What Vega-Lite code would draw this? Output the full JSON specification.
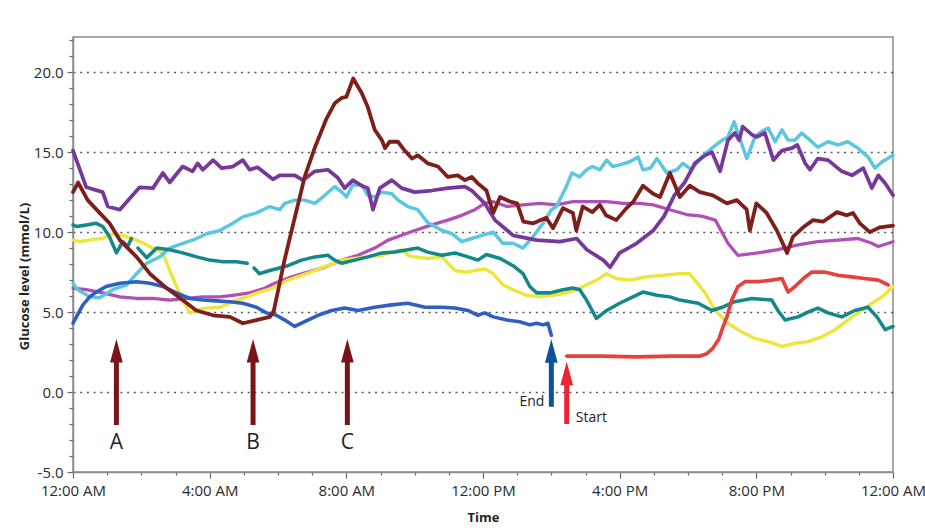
{
  "$schema": "https://vega.github.io/schema/vega-lite/v6.json",
  "width": 820,
  "height": 435,
  "autosize": "none",
  "padding": {"left": 73, "top": 37, "right": 32, "bottom": 56},
  "background": "white",
  "config": {
    "view": {"stroke": "#8c8c8c", "strokeWidth": 1.5},
    "font": "Open Sans",
    "axis": {
      "domainColor": "#8c8c8c", "domainWidth": 1.5, "tickColor": "#666666", "tickWidth": 1.2,
      "labelColor": "#2b2b2b", "labelFont": "Open Sans", "labelFontSize": 15,
      "titleFont": "Open Sans", "titleFontWeight": "bold", "titleFontSize": 13, "titleColor": "#222222",
      "labelOverlap": false, "labelFlush": false
    }
  },
  "datasets": {
    "glucose": [
      {"s":"magenta","h":0,"g":6.5},{"s":"magenta","h":0.39,"g":6.4},{"s":"magenta","h":0.87,"g":6.2},{"s":"magenta","h":1.37,"g":5.95},{"s":"magenta","h":1.86,"g":5.85},{"s":"magenta","h":2.34,"g":5.85},{"s":"magenta","h":2.83,"g":5.75},{"s":"magenta","h":3.3,"g":5.85},{"s":"magenta","h":3.8,"g":5.95},{"s":"magenta","h":4.3,"g":5.95},{"s":"magenta","h":4.68,"g":6.05},{"s":"magenta","h":5.17,"g":6.2},{"s":"magenta","h":5.56,"g":6.45},{"s":"magenta","h":5.9,"g":6.8},{"s":"magenta","h":6.4,"g":7.2},{"s":"magenta","h":6.87,"g":7.5},{"s":"magenta","h":7.37,"g":7.8},{"s":"magenta","h":7.87,"g":8.25},{"s":"magenta","h":8.34,"g":8.55},{"s":"magenta","h":8.83,"g":9.0},{"s":"magenta","h":9.22,"g":9.5},{"s":"magenta","h":9.62,"g":9.8},{"s":"magenta","h":10.0,"g":10.1},{"s":"magenta","h":10.5,"g":10.45},{"s":"magenta","h":10.97,"g":10.75},{"s":"magenta","h":11.38,"g":11.05},{"s":"magenta","h":11.76,"g":11.4},{"s":"magenta","h":12.05,"g":11.8},{"s":"magenta","h":12.3,"g":11.9},{"s":"magenta","h":12.7,"g":11.6},{"s":"magenta","h":13.17,"g":11.7},{"s":"magenta","h":13.66,"g":11.8},{"s":"magenta","h":14.15,"g":11.7},{"s":"magenta","h":14.63,"g":11.9},{"s":"magenta","h":15.13,"g":11.9},{"s":"magenta","h":15.62,"g":11.9},{"s":"magenta","h":16.1,"g":11.8},{"s":"magenta","h":16.59,"g":11.8},{"s":"magenta","h":16.98,"g":11.7},{"s":"magenta","h":17.47,"g":11.4},{"s":"magenta","h":17.96,"g":11.1},{"s":"magenta","h":18.4,"g":11.0},{"s":"magenta","h":18.8,"g":10.75},{"s":"magenta","h":19.17,"g":9.3},{"s":"magenta","h":19.46,"g":8.55},{"s":"magenta","h":20.05,"g":8.7},{"s":"magenta","h":20.63,"g":8.9},{"s":"magenta","h":21.22,"g":9.2},{"s":"magenta","h":21.8,"g":9.4},{"s":"magenta","h":22.39,"g":9.5},{"s":"magenta","h":22.97,"g":9.6},{"s":"magenta","h":23.38,"g":9.3},{"s":"magenta","h":23.57,"g":9.1},{"s":"magenta","h":24,"g":9.4},
      {"s":"yellow","h":0,"g":9.5},{"s":"yellow","h":0.2,"g":9.4},{"s":"yellow","h":0.58,"g":9.55},{"s":"yellow","h":0.87,"g":9.6},{"s":"yellow","h":1.16,"g":9.9},{"s":"yellow","h":1.46,"g":9.8},{"s":"yellow","h":1.86,"g":9.5},{"s":"yellow","h":2.25,"g":9.1},{"s":"yellow","h":2.63,"g":8.7},{"s":"yellow","h":2.83,"g":7.6},{"s":"yellow","h":3.03,"g":6.6},{"s":"yellow","h":3.21,"g":5.75},{"s":"yellow","h":3.42,"g":4.95},{"s":"yellow","h":3.62,"g":5.1},{"s":"yellow","h":3.91,"g":5.25},{"s":"yellow","h":4.3,"g":5.3},{"s":"yellow","h":4.68,"g":5.65},{"s":"yellow","h":5.07,"g":5.95},{"s":"yellow","h":5.46,"g":6.25},{"s":"yellow","h":5.85,"g":6.5},{"s":"yellow","h":6.29,"g":7.0},{"s":"yellow","h":6.69,"g":7.3},{"s":"yellow","h":7.08,"g":7.6},{"s":"yellow","h":7.46,"g":7.9},{"s":"yellow","h":7.87,"g":8.25},{"s":"yellow","h":8.25,"g":8.35},{"s":"yellow","h":8.63,"g":8.45},{"s":"yellow","h":9.04,"g":8.55},{"s":"yellow","h":9.33,"g":8.75},{"s":"yellow","h":9.62,"g":8.9},{"s":"yellow","h":9.8,"g":8.55},{"s":"yellow","h":10.0,"g":8.45},{"s":"yellow","h":10.38,"g":8.35},{"s":"yellow","h":10.8,"g":8.45},{"s":"yellow","h":10.97,"g":8.05},{"s":"yellow","h":11.18,"g":7.6},{"s":"yellow","h":11.47,"g":7.5},{"s":"yellow","h":11.76,"g":7.6},{"s":"yellow","h":12.05,"g":7.7},{"s":"yellow","h":12.3,"g":7.4},{"s":"yellow","h":12.58,"g":6.7},{"s":"yellow","h":12.88,"g":6.4},{"s":"yellow","h":13.27,"g":6.05},{"s":"yellow","h":13.66,"g":5.95},{"s":"yellow","h":14.05,"g":6.05},{"s":"yellow","h":14.44,"g":6.2},{"s":"yellow","h":14.73,"g":6.4},{"s":"yellow","h":15.03,"g":6.7},{"s":"yellow","h":15.32,"g":7.0},{"s":"yellow","h":15.62,"g":7.4},{"s":"yellow","h":15.9,"g":7.1},{"s":"yellow","h":16.3,"g":7.0},{"s":"yellow","h":16.78,"g":7.2},{"s":"yellow","h":17.27,"g":7.3},{"s":"yellow","h":17.76,"g":7.4},{"s":"yellow","h":18.05,"g":7.4},{"s":"yellow","h":18.2,"g":7.0},{"s":"yellow","h":18.5,"g":6.2},{"s":"yellow","h":18.8,"g":5.1},{"s":"yellow","h":19.17,"g":4.3},{"s":"yellow","h":19.58,"g":3.75},{"s":"yellow","h":19.96,"g":3.35},{"s":"yellow","h":20.35,"g":3.15},{"s":"yellow","h":20.75,"g":2.85},{"s":"yellow","h":21.13,"g":3.05},{"s":"yellow","h":21.51,"g":3.15},{"s":"yellow","h":21.91,"g":3.45},{"s":"yellow","h":22.3,"g":3.9},{"s":"yellow","h":22.68,"g":4.5},{"s":"yellow","h":23.07,"g":5.1},{"s":"yellow","h":23.38,"g":5.55},{"s":"yellow","h":23.68,"g":5.95},{"s":"yellow","h":24,"g":6.6},
      {"s":"cyan","h":0,"g":6.8},{"s":"cyan","h":0.14,"g":6.4},{"s":"cyan","h":0.49,"g":5.95},{"s":"cyan","h":0.78,"g":5.9},{"s":"cyan","h":1.16,"g":6.4},{"s":"cyan","h":1.57,"g":6.7},{"s":"cyan","h":1.86,"g":7.4},{"s":"cyan","h":2.16,"g":8.05},{"s":"cyan","h":2.54,"g":8.45},{"s":"cyan","h":2.83,"g":9.0},{"s":"cyan","h":3.21,"g":9.3},{"s":"cyan","h":3.62,"g":9.6},{"s":"cyan","h":3.91,"g":9.9},{"s":"cyan","h":4.3,"g":10.1},{"s":"cyan","h":4.68,"g":10.55},{"s":"cyan","h":4.97,"g":10.95},{"s":"cyan","h":5.37,"g":11.2},{"s":"cyan","h":5.76,"g":11.6},{"s":"cyan","h":6.05,"g":11.4},{"s":"cyan","h":6.2,"g":11.8},{"s":"cyan","h":6.49,"g":12.0},{"s":"cyan","h":6.78,"g":12.0},{"s":"cyan","h":7.08,"g":11.8},{"s":"cyan","h":7.37,"g":12.3},{"s":"cyan","h":7.66,"g":12.85},{"s":"cyan","h":7.87,"g":12.5},{"s":"cyan","h":8.0,"g":12.2},{"s":"cyan","h":8.19,"g":12.95},{"s":"cyan","h":8.45,"g":12.95},{"s":"cyan","h":8.63,"g":12.3},{"s":"cyan","h":8.83,"g":12.2},{"s":"cyan","h":9.04,"g":12.5},{"s":"cyan","h":9.33,"g":12.4},{"s":"cyan","h":9.51,"g":12.0},{"s":"cyan","h":9.8,"g":11.6},{"s":"cyan","h":10.09,"g":11.4},{"s":"cyan","h":10.38,"g":10.6},{"s":"cyan","h":10.8,"g":10.1},{"s":"cyan","h":11.09,"g":9.9},{"s":"cyan","h":11.38,"g":9.4},{"s":"cyan","h":11.67,"g":9.6},{"s":"cyan","h":11.97,"g":9.8},{"s":"cyan","h":12.3,"g":10.0},{"s":"cyan","h":12.58,"g":9.3},{"s":"cyan","h":12.88,"g":9.3},{"s":"cyan","h":13.17,"g":9.0},{"s":"cyan","h":13.46,"g":9.7},{"s":"cyan","h":13.76,"g":10.55},{"s":"cyan","h":14.0,"g":11.4},{"s":"cyan","h":14.15,"g":11.6},{"s":"cyan","h":14.44,"g":12.85},{"s":"cyan","h":14.6,"g":13.7},{"s":"cyan","h":14.83,"g":13.45},{"s":"cyan","h":15.03,"g":13.9},{"s":"cyan","h":15.2,"g":14.1},{"s":"cyan","h":15.42,"g":13.9},{"s":"cyan","h":15.62,"g":14.5},{"s":"cyan","h":15.8,"g":14.1},{"s":"cyan","h":16.0,"g":14.2},{"s":"cyan","h":16.3,"g":14.4},{"s":"cyan","h":16.54,"g":14.7},{"s":"cyan","h":16.68,"g":13.9},{"s":"cyan","h":16.9,"g":14.0},{"s":"cyan","h":17.09,"g":14.6},{"s":"cyan","h":17.38,"g":13.7},{"s":"cyan","h":17.67,"g":13.9},{"s":"cyan","h":17.85,"g":14.3},{"s":"cyan","h":18.1,"g":13.9},{"s":"cyan","h":18.4,"g":14.7},{"s":"cyan","h":18.7,"g":15.25},{"s":"cyan","h":19.0,"g":15.75},{"s":"cyan","h":19.17,"g":15.95},{"s":"cyan","h":19.35,"g":16.9},{"s":"cyan","h":19.5,"g":15.95},{"s":"cyan","h":19.72,"g":14.6},{"s":"cyan","h":19.96,"g":15.95},{"s":"cyan","h":20.16,"g":16.3},{"s":"cyan","h":20.35,"g":16.5},{"s":"cyan","h":20.55,"g":15.65},{"s":"cyan","h":20.75,"g":16.4},{"s":"cyan","h":20.93,"g":15.75},{"s":"cyan","h":21.13,"g":15.75},{"s":"cyan","h":21.33,"g":16.2},{"s":"cyan","h":21.57,"g":15.75},{"s":"cyan","h":21.8,"g":15.3},{"s":"cyan","h":22.1,"g":15.65},{"s":"cyan","h":22.39,"g":15.45},{"s":"cyan","h":22.68,"g":15.65},{"s":"cyan","h":22.97,"g":15.25},{"s":"cyan","h":23.27,"g":14.7},{"s":"cyan","h":23.47,"g":14.0},{"s":"cyan","h":23.68,"g":14.4},{"s":"cyan","h":24,"g":14.8},
      {"s":"teal","h":0,"g":10.45},{"s":"teal","h":0.1,"g":10.35},{"s":"teal","h":0.39,"g":10.45},{"s":"teal","h":0.68,"g":10.55},{"s":"teal","h":0.87,"g":10.35},{"s":"teal","h":1.07,"g":9.7},{"s":"teal","h":1.27,"g":8.7},{"s":"teal","h":1.46,"g":9.4},{"s":"teal","h":1.6,"g":9.1},{"s":"teal","h":1.71,"g":9.6},{"s":"teal","h":1.8,"g":null},{"s":"teal","h":1.9,"g":9.0},{"s":"teal","h":2.16,"g":8.4},{"s":"teal","h":2.45,"g":9.0},{"s":"teal","h":2.83,"g":8.9},{"s":"teal","h":3.21,"g":8.7},{"s":"teal","h":3.62,"g":8.45},{"s":"teal","h":4.0,"g":8.25},{"s":"teal","h":4.39,"g":8.15},{"s":"teal","h":4.78,"g":8.15},{"s":"teal","h":5.1,"g":8.05},{"s":"teal","h":5.2,"g":null},{"s":"teal","h":5.3,"g":7.75},{"s":"teal","h":5.46,"g":7.4},{"s":"teal","h":5.76,"g":7.6},{"s":"teal","h":6.29,"g":7.9},{"s":"teal","h":6.69,"g":8.25},{"s":"teal","h":7.08,"g":8.45},{"s":"teal","h":7.46,"g":8.55},{"s":"teal","h":7.66,"g":8.25},{"s":"teal","h":7.87,"g":8.05},{"s":"teal","h":8.25,"g":8.25},{"s":"teal","h":8.63,"g":8.45},{"s":"teal","h":9.04,"g":8.7},{"s":"teal","h":9.42,"g":8.75},{"s":"teal","h":9.8,"g":8.9},{"s":"teal","h":10.09,"g":9.0},{"s":"teal","h":10.38,"g":8.75},{"s":"teal","h":10.8,"g":8.55},{"s":"teal","h":11.18,"g":8.7},{"s":"teal","h":11.56,"g":8.45},{"s":"teal","h":11.85,"g":8.25},{"s":"teal","h":12.1,"g":8.6},{"s":"teal","h":12.5,"g":8.35},{"s":"teal","h":12.88,"g":7.9},{"s":"teal","h":13.17,"g":7.4},{"s":"teal","h":13.37,"g":6.6},{"s":"teal","h":13.57,"g":6.2},{"s":"teal","h":13.96,"g":6.2},{"s":"teal","h":14.34,"g":6.4},{"s":"teal","h":14.63,"g":6.5},{"s":"teal","h":14.83,"g":6.4},{"s":"teal","h":15.03,"g":5.75},{"s":"teal","h":15.32,"g":4.6},{"s":"teal","h":15.62,"g":5.1},{"s":"teal","h":16.0,"g":5.55},{"s":"teal","h":16.39,"g":5.95},{"s":"teal","h":16.68,"g":6.25},{"s":"teal","h":17.09,"g":6.05},{"s":"teal","h":17.47,"g":5.95},{"s":"teal","h":17.76,"g":5.75},{"s":"teal","h":18.05,"g":5.65},{"s":"teal","h":18.3,"g":5.55},{"s":"teal","h":18.7,"g":5.1},{"s":"teal","h":19.0,"g":5.3},{"s":"teal","h":19.37,"g":5.65},{"s":"teal","h":19.87,"g":5.85},{"s":"teal","h":20.45,"g":5.75},{"s":"teal","h":20.63,"g":5.1},{"s":"teal","h":20.84,"g":4.5},{"s":"teal","h":21.22,"g":4.7},{"s":"teal","h":21.51,"g":5.0},{"s":"teal","h":21.8,"g":5.25},{"s":"teal","h":22.1,"g":4.95},{"s":"teal","h":22.5,"g":4.7},{"s":"teal","h":22.88,"g":5.1},{"s":"teal","h":23.27,"g":5.3},{"s":"teal","h":23.53,"g":4.7},{"s":"teal","h":23.77,"g":3.9},{"s":"teal","h":24,"g":4.1},
      {"s":"blue","h":0,"g":4.3},{"s":"blue","h":0.1,"g":4.7},{"s":"blue","h":0.29,"g":5.45},{"s":"blue","h":0.49,"g":5.95},{"s":"blue","h":0.68,"g":6.25},{"s":"blue","h":0.97,"g":6.6},{"s":"blue","h":1.37,"g":6.8},{"s":"blue","h":1.86,"g":6.9},{"s":"blue","h":2.25,"g":6.8},{"s":"blue","h":2.63,"g":6.6},{"s":"blue","h":3.03,"g":6.2},{"s":"blue","h":3.42,"g":5.85},{"s":"blue","h":3.8,"g":5.75},{"s":"blue","h":4.2,"g":5.7},{"s":"blue","h":4.59,"g":5.65},{"s":"blue","h":4.97,"g":5.55},{"s":"blue","h":5.37,"g":5.3},{"s":"blue","h":5.66,"g":4.95},{"s":"blue","h":5.95,"g":4.8},{"s":"blue","h":6.2,"g":4.5},{"s":"blue","h":6.49,"g":4.1},{"s":"blue","h":6.78,"g":4.4},{"s":"blue","h":7.17,"g":4.8},{"s":"blue","h":7.57,"g":5.1},{"s":"blue","h":7.95,"g":5.25},{"s":"blue","h":8.34,"g":5.1},{"s":"blue","h":8.83,"g":5.3},{"s":"blue","h":9.33,"g":5.45},{"s":"blue","h":9.8,"g":5.55},{"s":"blue","h":10.3,"g":5.3},{"s":"blue","h":10.8,"g":5.3},{"s":"blue","h":11.18,"g":5.25},{"s":"blue","h":11.56,"g":5.1},{"s":"blue","h":11.85,"g":4.8},{"s":"blue","h":12.05,"g":4.95},{"s":"blue","h":12.3,"g":4.7},{"s":"blue","h":12.7,"g":4.5},{"s":"blue","h":13.07,"g":4.4},{"s":"blue","h":13.37,"g":4.2},{"s":"blue","h":13.57,"g":4.3},{"s":"blue","h":13.76,"g":4.2},{"s":"blue","h":13.9,"g":4.3},{"s":"blue","h":14.0,"g":3.55},
      {"s":"red","h":14.45,"g":2.25},{"s":"red","h":15.5,"g":2.25},{"s":"red","h":16.5,"g":2.2},{"s":"red","h":17.5,"g":2.25},{"s":"red","h":18.35,"g":2.25},{"s":"red","h":18.55,"g":2.4},{"s":"red","h":18.73,"g":2.75},{"s":"red","h":18.9,"g":3.3},{"s":"red","h":19.03,"g":4.1},{"s":"red","h":19.14,"g":4.7},{"s":"red","h":19.28,"g":5.75},{"s":"red","h":19.46,"g":6.6},{"s":"red","h":19.67,"g":6.9},{"s":"red","h":20.05,"g":6.9},{"s":"red","h":20.45,"g":7.0},{"s":"red","h":20.75,"g":7.1},{"s":"red","h":20.93,"g":6.25},{"s":"red","h":21.13,"g":6.6},{"s":"red","h":21.43,"g":7.2},{"s":"red","h":21.63,"g":7.5},{"s":"red","h":22.0,"g":7.5},{"s":"red","h":22.39,"g":7.3},{"s":"red","h":22.8,"g":7.2},{"s":"red","h":23.17,"g":7.1},{"s":"red","h":23.57,"g":7.0},{"s":"red","h":23.86,"g":6.7},
      {"s":"purple","h":0,"g":15.1},{"s":"purple","h":0.39,"g":12.8},{"s":"purple","h":0.87,"g":12.5},{"s":"purple","h":1.02,"g":11.6},{"s":"purple","h":1.37,"g":11.4},{"s":"purple","h":1.66,"g":12.1},{"s":"purple","h":1.95,"g":12.8},{"s":"purple","h":2.34,"g":12.75},{"s":"purple","h":2.63,"g":13.7},{"s":"purple","h":2.83,"g":13.1},{"s":"purple","h":3.21,"g":14.1},{"s":"purple","h":3.5,"g":13.8},{"s":"purple","h":3.65,"g":14.3},{"s":"purple","h":3.8,"g":13.9},{"s":"purple","h":4.1,"g":14.5},{"s":"purple","h":4.35,"g":14.0},{"s":"purple","h":4.68,"g":14.1},{"s":"purple","h":4.97,"g":14.5},{"s":"purple","h":5.17,"g":13.9},{"s":"purple","h":5.4,"g":14.05},{"s":"purple","h":5.85,"g":13.3},{"s":"purple","h":6.05,"g":13.55},{"s":"purple","h":6.49,"g":13.55},{"s":"purple","h":6.73,"g":13.25},{"s":"purple","h":7.08,"g":13.8},{"s":"purple","h":7.46,"g":13.9},{"s":"purple","h":7.75,"g":13.4},{"s":"purple","h":7.95,"g":12.75},{"s":"purple","h":8.19,"g":13.25},{"s":"purple","h":8.45,"g":12.9},{"s":"purple","h":8.63,"g":12.75},{"s":"purple","h":8.78,"g":11.4},{"s":"purple","h":8.98,"g":12.75},{"s":"purple","h":9.33,"g":13.25},{"s":"purple","h":9.62,"g":12.75},{"s":"purple","h":10.0,"g":12.5},{"s":"purple","h":10.5,"g":12.6},{"s":"purple","h":10.97,"g":12.75},{"s":"purple","h":11.47,"g":12.85},{"s":"purple","h":11.67,"g":12.6},{"s":"purple","h":12.05,"g":11.8},{"s":"purple","h":12.35,"g":10.75},{"s":"purple","h":12.88,"g":9.8},{"s":"purple","h":13.57,"g":9.5},{"s":"purple","h":14.25,"g":9.4},{"s":"purple","h":14.74,"g":9.6},{"s":"purple","h":15.04,"g":8.9},{"s":"purple","h":15.52,"g":8.25},{"s":"purple","h":15.72,"g":7.8},{"s":"purple","h":16.0,"g":8.7},{"s":"purple","h":16.5,"g":9.3},{"s":"purple","h":16.98,"g":10.1},{"s":"purple","h":17.3,"g":11.0},{"s":"purple","h":17.6,"g":12.3},{"s":"purple","h":17.9,"g":13.1},{"s":"purple","h":18.2,"g":14.3},{"s":"purple","h":18.5,"g":14.8},{"s":"purple","h":18.7,"g":15.0},{"s":"purple","h":18.94,"g":13.8},{"s":"purple","h":19.17,"g":15.75},{"s":"purple","h":19.37,"g":16.2},{"s":"purple","h":19.5,"g":15.75},{"s":"purple","h":19.6,"g":16.6},{"s":"purple","h":19.87,"g":16.1},{"s":"purple","h":20.0,"g":15.95},{"s":"purple","h":20.25,"g":16.2},{"s":"purple","h":20.5,"g":14.5},{"s":"purple","h":20.75,"g":15.1},{"s":"purple","h":21.04,"g":15.25},{"s":"purple","h":21.2,"g":15.45},{"s":"purple","h":21.43,"g":14.3},{"s":"purple","h":21.57,"g":13.9},{"s":"purple","h":21.8,"g":14.6},{"s":"purple","h":22.1,"g":14.5},{"s":"purple","h":22.5,"g":13.8},{"s":"purple","h":22.8,"g":13.55},{"s":"purple","h":23.13,"g":14.0},{"s":"purple","h":23.38,"g":12.75},{"s":"purple","h":23.57,"g":13.55},{"s":"purple","h":23.77,"g":13.05},{"s":"purple","h":24,"g":12.3},
      {"s":"brown","h":0,"g":12.5},{"s":"brown","h":0.15,"g":13.1},{"s":"brown","h":0.43,"g":12.0},{"s":"brown","h":0.78,"g":11.2},{"s":"brown","h":1.07,"g":10.55},{"s":"brown","h":1.37,"g":9.5},{"s":"brown","h":1.86,"g":8.45},{"s":"brown","h":2.25,"g":7.4},{"s":"brown","h":2.74,"g":6.5},{"s":"brown","h":3.21,"g":5.75},{"s":"brown","h":3.61,"g":5.1},{"s":"brown","h":4.1,"g":4.8},{"s":"brown","h":4.59,"g":4.7},{"s":"brown","h":4.97,"g":4.3},{"s":"brown","h":5.37,"g":4.5},{"s":"brown","h":5.76,"g":4.7},{"s":"brown","h":5.88,"g":5.1},{"s":"brown","h":6.19,"g":8.25},{"s":"brown","h":6.49,"g":10.9},{"s":"brown","h":6.78,"g":13.45},{"s":"brown","h":7.08,"g":15.3},{"s":"brown","h":7.42,"g":17.1},{"s":"brown","h":7.66,"g":18.05},{"s":"brown","h":7.87,"g":18.4},{"s":"brown","h":8.0,"g":18.45},{"s":"brown","h":8.2,"g":19.6},{"s":"brown","h":8.45,"g":18.7},{"s":"brown","h":8.63,"g":17.8},{"s":"brown","h":8.83,"g":16.4},{"s":"brown","h":9.04,"g":15.75},{"s":"brown","h":9.13,"g":15.25},{"s":"brown","h":9.27,"g":15.65},{"s":"brown","h":9.51,"g":15.65},{"s":"brown","h":9.71,"g":15.1},{"s":"brown","h":9.92,"g":14.6},{"s":"brown","h":10.09,"g":14.8},{"s":"brown","h":10.38,"g":14.3},{"s":"brown","h":10.68,"g":14.1},{"s":"brown","h":10.97,"g":13.45},{"s":"brown","h":11.26,"g":13.55},{"s":"brown","h":11.47,"g":13.25},{"s":"brown","h":11.67,"g":13.45},{"s":"brown","h":11.85,"g":13.05},{"s":"brown","h":12.1,"g":12.6},{"s":"brown","h":12.3,"g":11.2},{"s":"brown","h":12.5,"g":12.2},{"s":"brown","h":12.8,"g":11.9},{"s":"brown","h":13.0,"g":11.8},{"s":"brown","h":13.18,"g":10.65},{"s":"brown","h":13.47,"g":10.55},{"s":"brown","h":13.85,"g":10.9},{"s":"brown","h":14.05,"g":10.25},{"s":"brown","h":14.34,"g":11.5},{"s":"brown","h":14.63,"g":11.2},{"s":"brown","h":14.73,"g":10.1},{"s":"brown","h":14.92,"g":11.6},{"s":"brown","h":15.2,"g":11.25},{"s":"brown","h":15.42,"g":11.7},{"s":"brown","h":15.6,"g":11.05},{"s":"brown","h":15.9,"g":10.75},{"s":"brown","h":16.2,"g":11.5},{"s":"brown","h":16.4,"g":11.9},{"s":"brown","h":16.68,"g":12.9},{"s":"brown","h":16.98,"g":12.4},{"s":"brown","h":17.18,"g":12.2},{"s":"brown","h":17.47,"g":13.7},{"s":"brown","h":17.76,"g":12.2},{"s":"brown","h":18.05,"g":12.9},{"s":"brown","h":18.35,"g":12.5},{"s":"brown","h":18.73,"g":12.3},{"s":"brown","h":19.14,"g":11.8},{"s":"brown","h":19.43,"g":12.0},{"s":"brown","h":19.72,"g":11.4},{"s":"brown","h":19.81,"g":10.1},{"s":"brown","h":20.0,"g":11.8},{"s":"brown","h":20.3,"g":11.2},{"s":"brown","h":20.6,"g":10.1},{"s":"brown","h":20.9,"g":8.7},{"s":"brown","h":21.07,"g":9.7},{"s":"brown","h":21.37,"g":10.3},{"s":"brown","h":21.66,"g":10.75},{"s":"brown","h":21.95,"g":10.65},{"s":"brown","h":22.36,"g":11.25},{"s":"brown","h":22.65,"g":11.05},{"s":"brown","h":22.83,"g":11.2},{"s":"brown","h":23.03,"g":10.55},{"s":"brown","h":23.32,"g":10.0},{"s":"brown","h":23.62,"g":10.3},{"s":"brown","h":24,"g":10.4}
    ],
    "arrows": [
      {"id":"A","kind":"event","h":1.27,"bottom":-2.06,"head":2.58},
      {"id":"B","kind":"event","h":5.27,"bottom":-2.06,"head":2.58},
      {"id":"C","kind":"event","h":8.03,"bottom":-2.06,"head":2.58},
      {"id":"End","kind":"end","h":14.0,"bottom":-0.92,"head":2.56},
      {"id":"Start","kind":"start","h":14.45,"bottom":-2.0,"head":1.16}
    ],
    "letters": [
      {"t":"A","h":1.27,"g":-3.2},
      {"t":"B","h":5.27,"g":-3.2},
      {"t":"C","h":8.03,"g":-3.2}
    ],
    "notes": [
      {"t":"End","h":13.43,"g":-0.6},
      {"t":"Start","h":15.17,"g":-1.6}
    ]
  },
  "layer": [
    {
      "data": {"name": "glucose"},
      "mark": {"type": "line", "strokeJoin": "round", "strokeCap": "round"},
      "encoding": {
        "x": {
          "field": "h", "type": "quantitative",
          "scale": {"domain": [0, 24], "nice": false, "zero": false},
          "axis": {
            "values": [0,1,2,3,4,5,6,7,8,9,10,11,12,13,14,15,16,17,18,19,20,21,22,23,24],
            "tickCount": 100,
            "labelExpr": "datum.value % 4 === 0 ? ['12:00 AM','4:00 AM','8:00 AM','12:00 PM','4:00 PM','8:00 PM','12:00 AM'][datum.value / 4] : ''",
            "tickSize": {"condition": {"test": "datum.value % 4 === 0", "value": 6}, "value": 3},
            "labelPadding": 5,
            "labelOverlap": false,
            "labelFlush": false,
            "grid": false,
            "title": "Time",
            "titleY": 45,
            "titleBaseline": "middle"
          }
        },
        "y": {
          "field": "g", "type": "quantitative",
          "scale": {"domain": [-5, 22.2], "nice": false, "zero": false},
          "axis": {
            "values": [-5,-4,-3,-2,-1,0,1,2,3,4,5,6,7,8,9,10,11,12,13,14,15,16,17,18,19,20,21,22],
            "tickCount": 100,
            "labelExpr": "datum.value % 5 === 0 ? replace(format(datum.value, '.1f'), '\u2212', '-') : ''",
            "tickSize": {"condition": {"test": "datum.value % 5 === 0", "value": 6}, "value": 4},
            "labelPadding": 4,
            "labelOverlap": false,
            "labelFlush": false,
            "grid": true,
            "gridColor": "#4f5a66",
            "gridDash": [2, 4.7],
            "gridWidth": 1.4,
            "gridOpacity": {"condition": {"test": "datum.value % 5 === 0 && datum.value > -5 && datum.value < 21", "value": 1}, "value": 0},
            "title": "Glucose level (mmol/L)",
            "titleAngle": -90,
            "titleX": -49,
            "titleY": 239,
            "titleAlign": "center",
            "titleBaseline": "middle"
          }
        },
        "color": {
          "field": "s", "type": "nominal",
          "scale": {
            "domain": ["magenta","yellow","cyan","teal","blue","red","purple","brown"],
            "range": ["#B24FB5","#EDE53A","#5AC6DF","#12888A","#2F5FC0","#E8403A","#77389A","#7E1F1B"]
          },
          "legend": null
        },
        "strokeWidth": {
          "field": "s", "type": "nominal",
          "scale": {
            "domain": ["magenta","yellow","cyan","teal","blue","red","purple","brown"],
            "range": [3.3, 3.8, 3.3, 3.8, 3.3, 3.3, 3.8, 4.3]
          },
          "legend": null
        }
      }
    },
    {
      "data": {"name": "arrows"},
      "mark": {"type": "rule", "strokeWidth": 5},
      "encoding": {
        "x": {"field": "h", "type": "quantitative"},
        "y": {"field": "bottom", "type": "quantitative"},
        "y2": {"field": "head"},
        "color": {
          "field": "kind", "type": "nominal",
          "scale": {"domain": ["event","end","start"], "range": ["#7A1418","#0B519C","#EC2330"]},
          "legend": null
        }
      }
    },
    {
      "data": {"name": "arrows"},
      "mark": {"type": "point", "shape": "M-0.54,1L0,-1L0.54,1Z", "size": 552, "filled": true, "opacity": 1, "strokeWidth": 0},
      "encoding": {
        "x": {"field": "h", "type": "quantitative"},
        "y": {"field": "head", "type": "quantitative"},
        "color": {
          "field": "kind", "type": "nominal",
          "scale": {"domain": ["event","end","start"], "range": ["#7A1418","#0B519C","#EC2330"]},
          "legend": null
        }
      }
    },
    {
      "data": {"name": "letters"},
      "mark": {"type": "text", "font": "Open Sans", "fontSize": 21, "color": "#222222", "baseline": "middle", "align": "center"},
      "encoding": {
        "x": {"field": "h", "type": "quantitative"},
        "y": {"field": "g", "type": "quantitative"},
        "text": {"field": "t", "type": "nominal"}
      }
    },
    {
      "data": {"name": "notes"},
      "mark": {"type": "text", "font": "Open Sans", "fontSize": 14, "color": "#222222", "baseline": "middle", "align": "center"},
      "encoding": {
        "x": {"field": "h", "type": "quantitative"},
        "y": {"field": "g", "type": "quantitative"},
        "text": {"field": "t", "type": "nominal"}
      }
    }
  ],
  "resolve": {"scale": {"color": "independent"}}
}
